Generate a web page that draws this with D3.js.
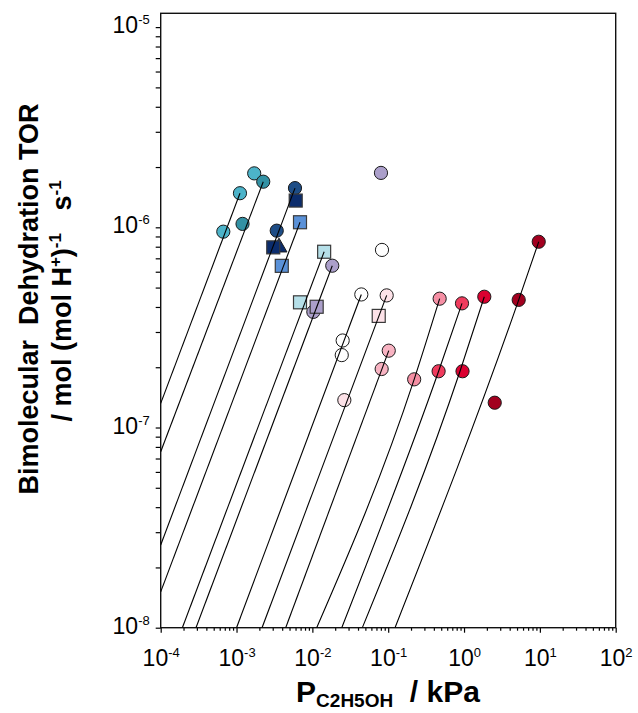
<!DOCTYPE html>
<html>
<head>
<meta charset="utf-8">
<script src="https://cdn.jsdelivr.net/npm/d3@7"></script>
<style>
  html, body { margin: 0; padding: 0; background: #fff; }
  svg { display: block; }
  text { font-family: "Liberation Sans", Arial, sans-serif; fill: #000; }
</style>
</head>
<body>
<svg id="chart" width="638" height="713"></svg>
<script>
// ---- Data: ethanol pressure (kPa) and bimolecular dehydration TOR ----
const seriesIds = ["s1","s2","s3","s4","s5","s6","s7","s8","s9","s10","s11","s12","s13","s14","s15","s16","s17"];
const seriesP = [
  [1.11e-3, 6.69e-4, 1.71e-3],
  [2.25e-3, 1.20e-3],
  [5.90e-3, 3.39e-3],
  [6.03e-3, 3.05e-3],
  [3.63e-3],
  [6.87e-3, 3.95e-3],
  [1.43e-2, 6.87e-3],
  [1.83e-2, 1.03e-2, 8.03e-2],
  [1.14e-2],
  [4.42e-2, 2.51e-2, 2.44e-2, 8.28e-2],
  [9.55e-2, 2.64e-2],
  [7.50e-2],
  [0.1017, 8.20e-2],
  [0.477, 0.220],
  [0.94, 0.462],
  [1.85, 0.955],
  [9.66, 5.26, 2.54]
];
const seriesTOR = [
  [1.48e-6, 9.51e-7, 1.86e-6],
  [1.69e-6, 1.04e-6],
  [1.57e-6, 9.62e-7],
  [1.36e-6, 7.94e-7],
  [7.94e-7],
  [1.06e-6, 6.42e-7],
  [7.55e-7, 4.22e-7],
  [6.43e-7, 3.78e-7, 1.87e-6],
  [4.01e-7],
  [4.62e-7, 2.72e-7, 2.30e-7, 7.71e-7],
  [4.57e-7, 1.37e-7],
  [3.61e-7],
  [2.42e-7, 1.96e-7],
  [4.40e-7, 1.74e-7],
  [4.17e-7, 1.91e-7],
  [4.50e-7, 1.91e-7],
  [8.47e-7, 4.34e-7, 1.33e-7]
];

// Fitted rate curves: [pressure, TOR] nodes along each curve
const fitP = [
  [1e-4, 1.11e-3],
  [1e-4, 2.25e-3],
  [1e-4, 5.90e-3],
  [1e-4, 6.87e-3],
  [1.93e-4, 1.43e-2],
  [2.92e-4, 1.83e-2],
  [1.0e-3, 4.42e-2],
  [2.17e-3, 9.55e-2],
  [4.45e-3, 0.1017],
  [1.14e-2, 0.220, 0.477],
  [2.44e-2, 0.462, 0.94],
  [4.56e-2, 0.885, 1.85],
  [0.123, 5.26, 9.66]
];
const fitTOR = [
  [1.32e-7, 1.48e-6],
  [7.57e-8, 1.69e-6],
  [2.59e-8, 1.57e-6],
  [1.51e-8, 1.06e-6],
  [1e-8, 7.55e-7],
  [1e-8, 6.43e-7],
  [1e-8, 4.62e-7],
  [1e-8, 4.57e-7],
  [1e-8, 2.42e-7],
  [1e-8, 1.74e-7, 4.40e-7],
  [1e-8, 1.91e-7, 4.17e-7],
  [1e-8, 1.91e-7, 4.50e-7],
  [1e-8, 4.34e-7, 8.47e-7]
];

// Axis tick exponents
const xTickExp = [-4, -3, -2, -1, 0, 1, 2];
const yTickExp = [-8, -7, -6, -5];

// ---- Styles ----
const markerShape = {
  s1:"circle", s2:"circle", s3:"circle", s4:"square", s5:"triangle", s6:"square",
  s7:"square", s8:"circle", s9:"square", s10:"circle", s11:"circle", s12:"square",
  s13:"circle", s14:"circle", s15:"circle", s16:"circle", s17:"circle"
};
const markerFill = {
  s1:"#4cb3c9", s2:"#3291a4", s3:"#1e4d86", s4:"#0b2c6c", s5:"#0b2c6c", s6:"#5a91d8",
  s7:"#b5dfe8", s8:"#ab9fca", s9:"#ab9fca", s10:"#ffffff", s11:"#fde2e8", s12:"#fde2e8",
  s13:"#f8b3c2", s14:"#f58fa4", s15:"#f03b5d", s16:"#db0030", s17:"#a2001f"
};

// ---- Layout ----
const plotLeft = 160.7, plotRight = 615.7, plotTop = 13.3, plotBottom = 627.7;
const yTop = Math.pow(10, -4.931);

const svg = d3.select("#chart");
const x = d3.scaleLog().domain([1e-4, 1e2]).range([plotLeft, plotRight]);
const y = d3.scaleLog().domain([1e-8, yTop]).range([plotBottom, plotTop]);

// minor tick values (2..9 per decade)
const xMinor = [];
for (let e = -4; e < 2; e++) for (let m = 2; m <= 9; m++) xMinor.push(m * Math.pow(10, e));
const yMinor = [];
for (let e = -8; e < -5; e++) for (let m = 2; m <= 9; m++) yMinor.push(m * Math.pow(10, e));

function supLabel(sel, size, supSize, rise) {
  sel.each(function(d) {
    const t = d3.select(this);
    const e = Math.round(Math.log10(d));
    t.text(null);
    t.append("tspan").attr("font-size", size).text("10");
    t.append("tspan").attr("font-size", supSize).attr("dy", -rise).text(String(e));
  });
}

// X axis
const gxMinor = svg.append("g").attr("transform", `translate(0,${plotBottom})`)
  .call(d3.axisBottom(x).tickValues(xMinor).tickSize(3).tickFormat(""));
gxMinor.select(".domain").remove();
const gx = svg.append("g").attr("transform", `translate(0,${plotBottom})`)
  .call(d3.axisBottom(x).tickValues(xTickExp.map(e => Math.pow(10, e))).tickSize(5));
gx.select(".domain").remove();
gx.selectAll("text").attr("y", 38.5).attr("dy", null).attr("font-size", 23)
  .call(supLabel, 23, 13, 9);

// Y axis
const gyMinor = svg.append("g").attr("transform", `translate(${plotLeft},0)`)
  .call(d3.axisLeft(y).tickValues(yMinor).tickSize(5).tickFormat(""));
gyMinor.select(".domain").remove();
const gy = svg.append("g").attr("transform", `translate(${plotLeft},0)`)
  .call(d3.axisLeft(y).tickValues(yTickExp.map(e => Math.pow(10, e))).tickSize(5));
gy.select(".domain").remove();
gy.selectAll("text").attr("x", -11).attr("dy", null).attr("y", 5.5).attr("font-size", 23)
  .call(supLabel, 23, 13, 9);

svg.selectAll(".tick line").attr("stroke", "#000").attr("stroke-width", 1.2);

// Plot frame
svg.append("rect")
  .attr("x", plotLeft).attr("y", plotTop)
  .attr("width", plotRight - plotLeft).attr("height", plotBottom - plotTop)
  .attr("fill", "none").attr("stroke", "#111").attr("stroke-width", 1.4);

// Clip for fitted curves
svg.append("clipPath").attr("id", "plotClip").append("rect")
  .attr("x", plotLeft).attr("y", plotTop)
  .attr("width", plotRight - plotLeft).attr("height", plotBottom - plotTop);

// Markers: circles/triangles first, squares on top
const points = [];
seriesIds.forEach((id, i) => {
  seriesP[i].forEach((p, j) => points.push({ id, p, r: seriesTOR[i][j] }));
});
const order = { triangle: 0, circle: 1, square: 2 };
points.sort((a, b) => order[markerShape[a.id]] - order[markerShape[b.id]]);

const gm = svg.append("g");
points.forEach(d => {
  const cx = x(d.p), cy = y(d.r), shape = markerShape[d.id], fill = markerFill[d.id];
  if (shape === "circle") {
    gm.append("circle").attr("cx", cx).attr("cy", cy).attr("r", 6.6)
      .attr("fill", fill).attr("stroke", "#1a1a1a").attr("stroke-width", 1);
  } else if (shape === "square") {
    gm.append("rect").attr("x", cx - 6.5).attr("y", cy - 6.5).attr("width", 13).attr("height", 13)
      .attr("fill", fill).attr("stroke", "#3a3a3a").attr("stroke-width", 1.2);
  } else {
    gm.append("path").attr("d", d3.symbol(d3.symbolTriangle, 110)())
      .attr("transform", `translate(${cx},${cy})`)
      .attr("fill", fill).attr("stroke", "#1a1a1a").attr("stroke-width", 1);
  }
});

// Fitted curves
const curve = d3.line().x(d => x(d[0])).y(d => y(d[1])).curve(d3.curveMonotoneX);
const gl = svg.append("g").attr("clip-path", "url(#plotClip)");
fitP.forEach((ps, i) => {
  const pts = ps.map((p, j) => [p, fitTOR[i][j]]);
  gl.append("path").attr("d", curve(pts))
    .attr("fill", "none").attr("stroke", "#000").attr("stroke-width", 1.1);
});

// X axis title
const xt = svg.append("text").attr("x", 388).attr("y", 702)
  .attr("text-anchor", "middle").attr("font-weight", "bold").attr("font-size", 30);
xt.append("tspan").text("P");
xt.append("tspan").attr("font-size", 19).attr("dy", 5).text("C2H5OH");
xt.append("tspan").attr("dy", -5).text("\u00a0 / kPa");

// Y axis title (two lines)
svg.append("text")
  .attr("transform", "translate(38,299) rotate(-90)")
  .attr("text-anchor", "middle").attr("font-weight", "bold").attr("font-size", 27)
  .text("Bimolecular\u00a0 Dehydration TOR");
const yt2 = svg.append("text")
  .attr("transform", "translate(71,301) rotate(-90)")
  .attr("text-anchor", "middle").attr("font-weight", "bold").attr("font-size", 27);
yt2.append("tspan").text("/ mol (mol H");
yt2.append("tspan").attr("font-size", 17).attr("dy", -10).text("+");
yt2.append("tspan").attr("dy", 10).text(")");
yt2.append("tspan").attr("font-size", 17).attr("dy", -10).text("-1");
yt2.append("tspan").attr("dy", 10).text("\u00a0\u00a0 s");
yt2.append("tspan").attr("font-size", 17).attr("dy", -10).text("-1");
</script>
</body>
</html>
